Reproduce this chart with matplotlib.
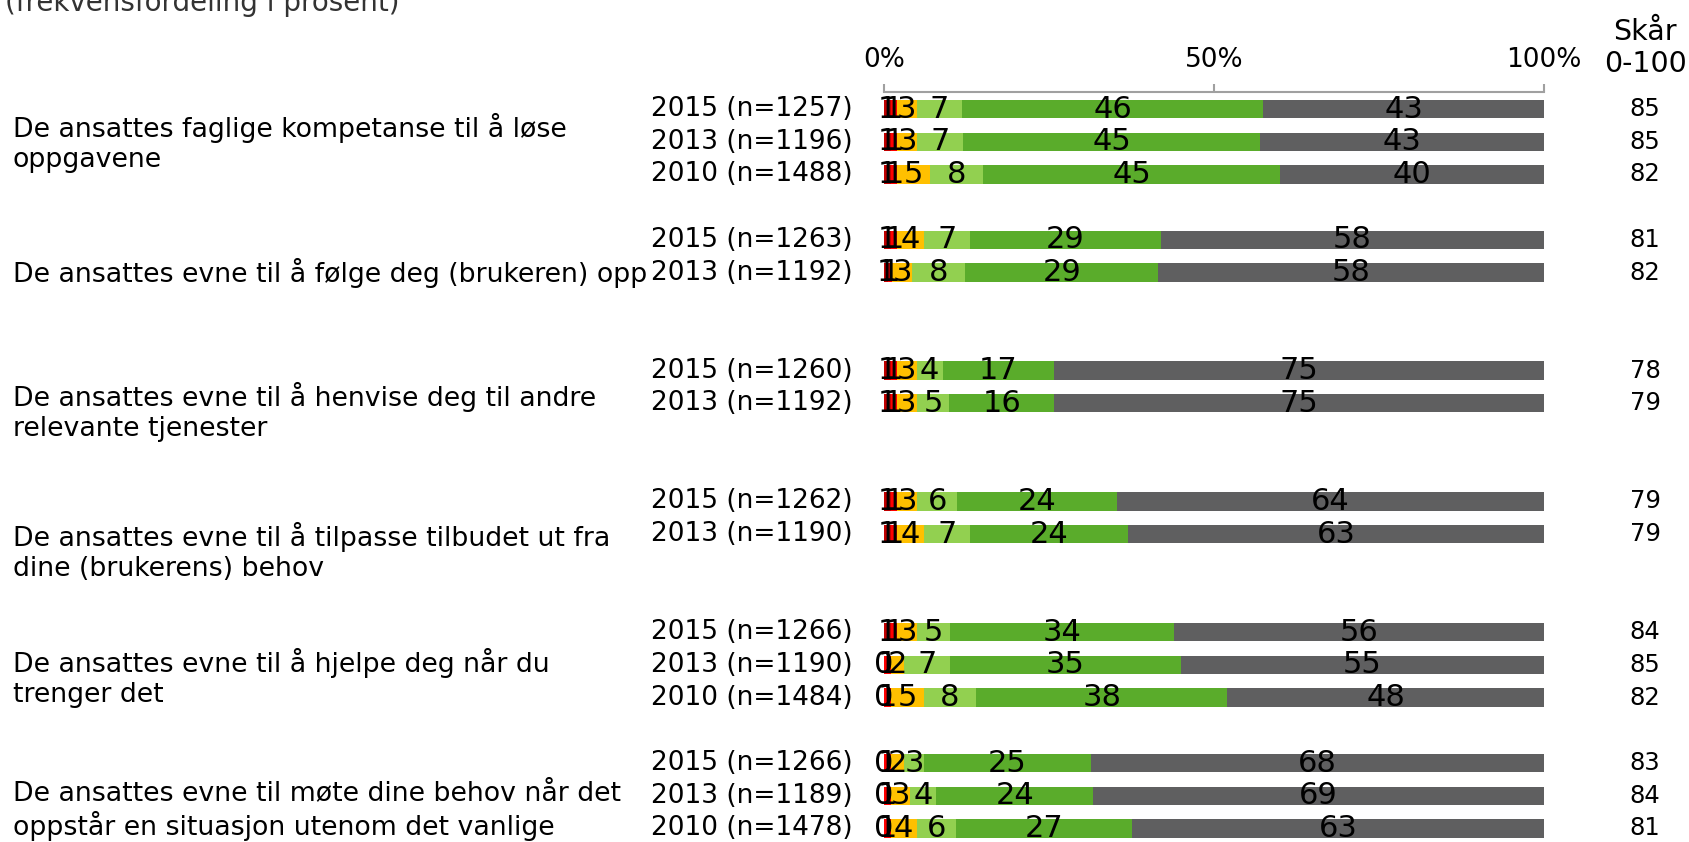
import matplotlib
matplotlib.use('Agg')
import matplotlib.pyplot as plt
from matplotlib.transforms import blended_transform_factory

plt.rcParams['font.family'] = ['DejaVu Sans']

# ---------------- data ----------------
categories = [
    "De ansattes faglige kompetanse til å løse\noppgavene",
    "De ansattes evne til å følge deg (brukeren) opp",
    "De ansattes evne til å henvise deg til andre\nrelevante tjenester",
    "De ansattes evne til å tilpasse tilbudet ut fra\ndine (brukerens) behov",
    "De ansattes evne til å hjelpe deg når du\ntrenger det",
    "De ansattes evne til møte dine behov når det\noppstår en situasjon utenom det vanlige",
]
year_labels = [
    ["2015 (n=1257)", "2013 (n=1196)", "2010 (n=1488)"],
    ["2015 (n=1263)", "2013 (n=1192)"],
    ["2015 (n=1260)", "2013 (n=1192)"],
    ["2015 (n=1262)", "2013 (n=1190)"],
    ["2015 (n=1266)", "2013 (n=1190)", "2010 (n=1484)"],
    ["2015 (n=1266)", "2013 (n=1189)", "2010 (n=1478)"],
]
# rows in order (flattened over the groups above)
s_darkred = [1, 1, 1, 1, 0.6, 1, 1, 1, 1, 1, 0, 0, 0, 0, 0]
s_red     = [1, 1, 1, 1, 0.6, 1, 1, 1, 1, 1, 1, 1, 1, 1, 1]
s_orange  = [3, 3, 5, 4, 3, 3, 3, 3, 4, 3, 2, 5, 2, 3, 4]
s_lgreen  = [7, 7, 8, 7, 8, 4, 5, 6, 7, 5, 7, 8, 3, 4, 6]
s_green   = [46, 45, 45, 29, 29, 17, 16, 24, 24, 34, 35, 38, 25, 24, 27]
s_gray    = [43, 43, 40, 58, 58, 75, 75, 64, 63, 56, 55, 48, 68, 69, 63]
scores    = [85, 85, 82, 81, 82, 78, 79, 79, 79, 84, 85, 82, 83, 84, 81]

xticks = [0, 50, 100]
xtick_labels = ["0%", "50%", "100%"]
title = "(frekvensfordeling i prosent)"
score_header = "Skår\n0-100"

# ---------------- layout ----------------
W, H = 1689, 842
fig = plt.figure(figsize=(W / 100, H / 100), dpi=100)

x0_px, x1_px = 884, 1544
row0_px, row_step = 109, 32.7
top_px = 92
ax = fig.add_axes([x0_px / W, 0, (x1_px - x0_px) / W, (H - top_px) / H])
ax.set_xlim(0, 100)
ymin = (top_px - row0_px) / row_step
ymax = (H - row0_px) / row_step
ax.set_ylim(ymax, ymin)

# row positions: each group occupies a block of 4 slots
positions = []
for g, labs in enumerate(year_labels):
    for j in range(len(labs)):
        positions.append(4 * g + j)
group_label_offsets = [1.05, 1.0, 1.28, 1.55, 1.41, 1.44]

colors = ['#C00000', '#FF0000', '#FFC000', '#92D050', '#5AAC2B', '#5F5F60']
series = [s_darkred, s_red, s_orange, s_lgreen, s_green, s_gray]

# bars are normalised to 100 % per row; labels show the read values
totals = [sum(vals) for vals in zip(*series)]
left = [0.0] * len(positions)
for vals, col in zip(series, colors):
    widths = [v / t * 100 for v, t in zip(vals, totals)]
    ax.barh(positions, widths, left=left, height=0.56, color=col, linewidth=0)
    for p, v, w, l in zip(positions, vals, widths, left):
        ax.text(l + w / 2, p, f"{v:.0f}", ha='center', va='center',
                fontsize=22, color='black', clip_on=False)
    left = [a + b for a, b in zip(left, widths)]

# axes styling: only top spine with upward ticks
for s in ['left', 'right', 'bottom']:
    ax.spines[s].set_visible(False)
ax.spines['top'].set_color('#A0A0A0')
ax.spines['top'].set_linewidth(1.5)
ax.xaxis.set_ticks_position('top')
ax.set_xticks(xticks)
ax.set_xticklabels(xtick_labels, fontsize=19)
ax.tick_params(axis='x', direction='out', length=6, width=1.5,
               color='#A0A0A0', pad=8)
ax.set_yticks([])

# year labels
trans = blended_transform_factory(fig.transFigure, ax.transData)
flat_years = [y for labs in year_labels for y in labs]
for p, lab in zip(positions, flat_years):
    ax.text(853 / W, p, lab, transform=trans, ha='right', va='center',
            fontsize=19, clip_on=False)

# category labels
for g, (cat, off) in enumerate(zip(categories, group_label_offsets)):
    ax.text(13 / W, 4 * g + off, cat, transform=trans, ha='left', va='center',
            fontsize=19.3, linespacing=1.2, clip_on=False)

# scores
for p, s in zip(positions, scores):
    ax.text(1645 / W, p, str(s), transform=trans, ha='center', va='center',
            fontsize=17.5, clip_on=False)
fig.text(1645 / W, 1 - 48 / H, score_header, ha='center', va='center',
         fontsize=20.5, linespacing=1.2)

# title (cut by top of figure)
fig.text(5 / W, 1 - 11 / H, title, ha='left', va='baseline', fontsize=20,
         color='#333333')

fig.savefig('out.png', dpi=100)
